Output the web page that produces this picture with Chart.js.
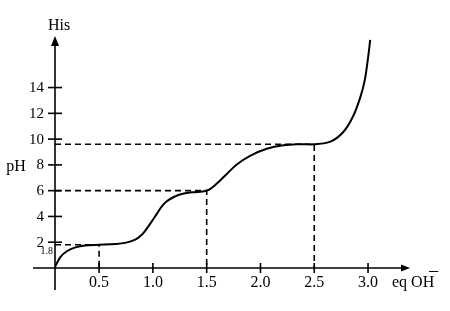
<!DOCTYPE html>
<html><head><meta charset="utf-8">
<script src="https://cdn.jsdelivr.net/npm/chart.js@4/dist/chart.umd.min.js"></script>
<style>html,body{margin:0;padding:0;background:#fff}#wrap{width:450px;height:311px}</style>
</head><body><div id="wrap"><canvas id="c" width="450" height="311"></canvas></div>
<script>
// Titration curve of histidine (eq OH- vs pH)
const curveEq = [0.09,0.14,0.2,0.28,0.37,0.5,0.65,0.742,0.835,0.897,0.943,0.99,1.036,1.083,1.129,1.19,1.268,1.362,1.5,1.594,1.687,1.78,1.903,2.058,2.213,2.368,2.5,2.65,2.77,2.86,2.93,2.97,3.0,3.02];
const curvePH = [0.1,0.85,1.3,1.6,1.75,1.8,1.86,1.95,2.2,2.58,3.05,3.62,4.2,4.78,5.18,5.49,5.74,5.87,6.0,6.55,7.3,8.03,8.7,9.25,9.52,9.6,9.6,9.8,10.55,11.75,13.3,14.6,16.3,17.7];
const guideEq = [0.5,1.5,2.5];
const guidePH = [1.8,6,9.6];
const guideLabels = ["1.8", null, null];
const xTicks = [0.5,1.0,1.5,2.0,2.5,3.0];
const xTickLabels = ["0.5","1.0","1.5","2.0","2.5","3.0"];
const yTicks = [2,4,6,8,10,12,14];
const yTickLabels = ["2","4","6","8","10","12","14"];
const X_MIN = 0.09, X_MAX = 3.39, Y_MIN = 0, Y_MAX = 18;

const datasets = [{
  data: curveEq.map((x,i)=>({x:x,y:curvePH[i]})),
  borderColor:'#000', borderWidth:2, pointRadius:0, showLine:true,
  tension:0.35, fill:false
}];
guideEq.forEach((gx,i)=>{
  datasets.push({
    data:[{x:X_MIN,y:guidePH[i]},{x:gx,y:guidePH[i]},{x:gx,y:Y_MIN}],
    borderColor:'#000', borderWidth:1.6, borderDash:[6,4], pointRadius:0,
    showLine:true, tension:0, fill:false
  });
});

const axesPlugin = {
  id:'axesPlugin',
  afterDatasetsDraw(chart){
    const ctx = chart.ctx, xs = chart.scales.x, ys = chart.scales.y;
    const x0 = xs.getPixelForValue(X_MIN), y0 = ys.getPixelForValue(Y_MIN);
    const xEnd = xs.getPixelForValue(X_MAX), yEnd = ys.getPixelForValue(Y_MAX);
    ctx.save();
    ctx.strokeStyle='#000'; ctx.fillStyle='#000'; ctx.lineWidth=1.6;
    // x axis
    ctx.beginPath(); ctx.moveTo(x0-22,y0); ctx.lineTo(xEnd-6,y0); ctx.stroke();
    ctx.beginPath(); ctx.moveTo(xEnd,y0); ctx.lineTo(xEnd-9,y0-3.5); ctx.lineTo(xEnd-9,y0+3.5); ctx.closePath(); ctx.fill();
    // y axis
    ctx.beginPath(); ctx.moveTo(x0,y0+22); ctx.lineTo(x0,yEnd+6); ctx.stroke();
    ctx.beginPath(); ctx.moveTo(x0,yEnd); ctx.lineTo(x0-4,yEnd+10); ctx.lineTo(x0+4,yEnd+10); ctx.closePath(); ctx.fill();
    // x ticks
    ctx.font='16px "Liberation Serif"'; ctx.textAlign='center'; ctx.textBaseline='middle';
    xTicks.forEach((v,i)=>{
      const p = xs.getPixelForValue(v);
      ctx.beginPath(); ctx.moveTo(p,y0-5); ctx.lineTo(p,y0+5); ctx.stroke();
      ctx.fillText(xTickLabels[i], p, y0+15);
    });
    // y ticks
    ctx.font='15px "Liberation Serif"'; ctx.textAlign='right';
    yTicks.forEach((v,i)=>{
      const p = ys.getPixelForValue(v);
      ctx.beginPath(); ctx.moveTo(x0-7,p); ctx.lineTo(x0+7,p); ctx.stroke();
      ctx.fillText(yTickLabels[i], x0-11, p+0.5);
    });
    // guide value label
    ctx.font='10px "Liberation Serif"';
    guideLabels.forEach((t,i)=>{
      if(!t) return;
      ctx.fillText(t, x0-2, ys.getPixelForValue(guidePH[i])+7);
    });
    // axis titles
    ctx.font='16px "Liberation Serif"'; ctx.textAlign='center';
    ctx.fillText('His', x0+4, yEnd-10);
    ctx.fillText('pH', 16, ys.getPixelForValue(8)+2);
    ctx.textAlign='left';
    ctx.fillText('eq OH', xEnd-18, y0+15);
    ctx.font='20px "Liberation Serif"';
    ctx.fillText('\u2212', xEnd+18, y0+5);
    ctx.restore();
  }
};

new Chart(document.getElementById('c'), {
  type:'scatter',
  data:{datasets:datasets},
  options:{
    responsive:false, animation:false,
    layout:{padding:{left:55,right:40,top:36,bottom:43}},
    plugins:{legend:{display:false},tooltip:{enabled:false}},
    scales:{
      x:{type:'linear',min:X_MIN,max:X_MAX,display:false},
      y:{type:'linear',min:Y_MIN,max:Y_MAX,display:false}
    }
  },
  plugins:[axesPlugin]
});
</script>
</body></html>
